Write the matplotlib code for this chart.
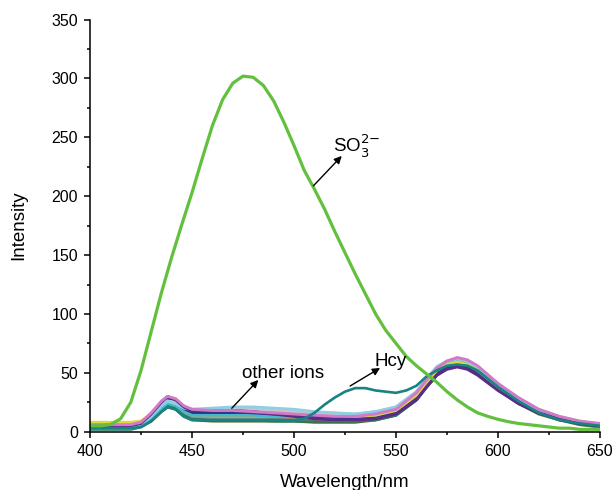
import matplotlib
matplotlib.use('Agg')
import matplotlib.pyplot as plt
from matplotlib.ticker import MultipleLocator

plt.rcParams['font.family'] = ['Liberation Sans', 'DejaVu Sans']

# Data
# SO3 2- spectrum (5 nm steps)
wl_so3 = [400, 405, 410, 415, 420, 425, 430, 435, 440, 445, 450, 455, 460, 465, 470, 475,
          480, 485, 490, 495, 500, 505, 510, 515, 520, 525, 530, 535, 540, 545, 550, 555,
          560, 565, 570, 575, 580, 585, 590, 595, 600, 605, 610, 615, 620, 625, 630, 635,
          640, 645, 650]
so3 = [5, 5, 6, 11, 25, 52, 85, 118, 148, 176, 203, 232, 260, 282, 296, 302,
       301, 294, 281, 263, 243, 222, 206, 189, 170, 152, 134, 117, 100, 86, 75, 64,
       56, 49, 42, 34, 27, 21, 16, 13, 10.5, 8.5, 7, 6, 5, 4, 3, 3,
       2, 2, 2]

# Hcy
wl_hcy = [400, 410, 420, 425, 430, 435, 438, 442, 446, 450, 460, 470, 480, 490, 500, 505,
          510, 515, 520, 525, 530, 535, 540, 545, 550, 555, 560, 565, 570, 575, 580, 585,
          590, 600, 610, 620, 630, 640, 650]
hcy = [3, 3, 3, 4, 9, 17, 21, 19, 13, 10, 10, 10, 10, 10, 10, 11,
       16, 23, 29, 34, 37, 37, 35, 34, 33, 35, 39, 47, 52, 56, 57, 56,
       52, 38, 26, 16, 10, 7, 5]

# other ions
wl_ions = [400, 410, 420, 425, 430, 435, 438, 442, 446, 450, 460, 470, 480, 490, 500, 510,
           520, 530, 540, 550, 560, 565, 570, 575, 580, 585, 590, 600, 610, 620, 630, 640, 650]
ion_olive = [3, 3, 3, 5, 9, 17, 21, 19, 13, 10, 9, 9, 9, 9, 9, 8,
             8, 8, 10, 14, 27, 38, 48, 54, 56, 54, 49, 36, 24, 15, 10, 6, 4]
ion_darkteal = [2, 2, 2, 4, 9, 18, 22, 20, 14, 11, 10, 10, 10, 9, 9, 9,
                9, 9, 10, 14, 27, 38, 48, 54, 57, 55, 50, 37, 25, 16, 10, 7, 4]
ion_red = [4, 4, 4, 6, 13, 23, 27, 24, 18, 14, 13, 12, 12, 12, 11, 11,
           10, 10, 12, 16, 29, 40, 50, 55, 58, 56, 51, 37, 25, 16, 11, 7, 5]
ion_gray = [5, 5, 5, 7, 13, 22, 25, 23, 17, 13, 12, 12, 12, 12, 11, 11,
            10, 10, 12, 16, 29, 40, 50, 56, 58, 56, 51, 37, 25, 16, 11, 7, 5]
ion_orange = [5, 5, 5, 7, 13, 22, 25, 23, 17, 14, 13, 13, 13, 13, 12, 12,
              11, 11, 13, 17, 30, 41, 51, 57, 60, 58, 53, 39, 27, 17, 12, 8, 6]
ion_black = [4, 4, 4, 6, 13, 23, 27, 25, 19, 15, 15, 15, 15, 14, 14, 13,
             12, 12, 13, 17, 30, 41, 51, 56, 57, 55, 50, 37, 25, 16, 11, 7, 5]
ion_cyan = [3, 3, 3, 5, 11, 20, 24, 22, 17, 14, 14, 14, 14, 13, 13, 12,
            11, 11, 13, 17, 30, 41, 51, 57, 60, 58, 53, 39, 27, 17, 11, 8, 6]
ion_navy = [4, 4, 4, 6, 14, 25, 29, 26, 20, 17, 17, 17, 16, 15, 14, 13,
            12, 12, 13, 17, 29, 40, 50, 54, 56, 54, 49, 36, 24, 16, 11, 7, 5]
ion_yellow = [8, 8, 8, 9, 15, 23, 26, 24, 21, 19, 19, 19, 18, 17, 16, 15,
              14, 13, 14, 18, 31, 42, 52, 57, 59, 57, 52, 38, 26, 17, 12, 8, 6]
ion_lightgray = [6, 6, 6, 8, 14, 23, 26, 25, 21, 19, 19, 19, 19, 18, 17, 16,
                 15, 15, 17, 21, 34, 45, 55, 60, 62, 60, 55, 40, 28, 19, 13, 9, 6]
ion_lightblue = [4, 4, 4, 6, 13, 22, 26, 24, 20, 19, 20, 21, 21, 20, 19, 17,
                 16, 15, 17, 21, 34, 45, 55, 60, 62, 60, 55, 40, 28, 18, 12, 8, 6]
ion_purple = [5, 5, 5, 7, 15, 25, 30, 27, 21, 18, 18, 18, 17, 15, 13, 11,
              10, 10, 11, 15, 27, 38, 48, 53, 55, 53, 48, 35, 24, 16, 11, 7, 5]
ion_pink = [6, 6, 6, 8, 16, 26, 30, 28, 22, 19, 18, 18, 17, 16, 15, 14,
            13, 13, 15, 19, 33, 44, 54, 60, 63, 61, 56, 41, 29, 19, 13, 9, 7]

ions = [
    (ion_olive, '#4d6b2e'),
    (ion_darkteal, '#2a7a62'),
    (ion_red, '#c8505e'),
    (ion_gray, '#8e8e8e'),
    (ion_orange, '#e39a4b'),
    (ion_black, '#222222'),
    (ion_cyan, '#46b8c8'),
    (ion_navy, '#2c3a8e'),
    (ion_yellow, '#e2d63c'),
    (ion_lightgray, '#c6c6c6'),
    (ion_lightblue, '#8ecfe6'),
    (ion_purple, '#5c2a88'),
    (ion_pink, '#d07ac8'),
]

fig = plt.figure(figsize=(6.14, 4.9), dpi=100)
ax = fig.add_axes([0.1466, 0.119, 0.8306, 0.841])

for vals, col in ions:
    ax.plot(wl_ions, vals, color=col, lw=2.1, solid_joinstyle='round')
ax.plot(wl_hcy, hcy, color='#178383', lw=1.9, solid_joinstyle='round')
ax.plot(wl_so3, so3, color='#62c03e', lw=2.3, solid_joinstyle='round')

ax.set_xlim(400, 650)
ax.set_ylim(0, 350)
ax.xaxis.set_major_locator(MultipleLocator(50))
ax.xaxis.set_minor_locator(MultipleLocator(25))
ax.yaxis.set_major_locator(MultipleLocator(50))
ax.yaxis.set_minor_locator(MultipleLocator(25))
for s in ['top', 'right']:
    ax.spines[s].set_visible(False)
for s in ['left', 'bottom']:
    ax.spines[s].set_linewidth(1.1)
ax.tick_params(which='major', direction='out', length=4.6, width=1.1, labelsize=11.5, pad=4)
ax.tick_params(which='minor', direction='out', length=2.5, width=1.1)

ax.set_xlabel('Wavelength/nm', fontsize=13.5)
ax.set_ylabel('Intensity', fontsize=13.5)
ax.xaxis.set_label_coords(0.5, -0.103)
ax.yaxis.set_label_coords(-0.124, 0.5)

# annotations
arrow = dict(arrowstyle='-|>', color='black', lw=1.0, mutation_scale=11, shrinkA=0, shrinkB=0)
ax.annotate('', xy=(523.4, 234.2), xytext=(509.5, 208.8), arrowprops=arrow)
ax.text(519.3, 237.9, r'SO$_3^{2\mathsf{-}}$', fontsize=13.5, ha='left', va='baseline')
ax.annotate('', xy=(542.2, 54.1), xytext=(527.5, 38.8), arrowprops=arrow)
ax.text(539.4, 55.8, 'Hcy', fontsize=13.5, ha='left', va='baseline')
ax.annotate('', xy=(482.5, 43.9), xytext=(469.5, 19.9), arrowprops=arrow)
ax.text(474.4, 45.4, 'other ions', fontsize=13.5, ha='left', va='baseline')

plt.savefig('out.png', dpi=100)
plt.close()
